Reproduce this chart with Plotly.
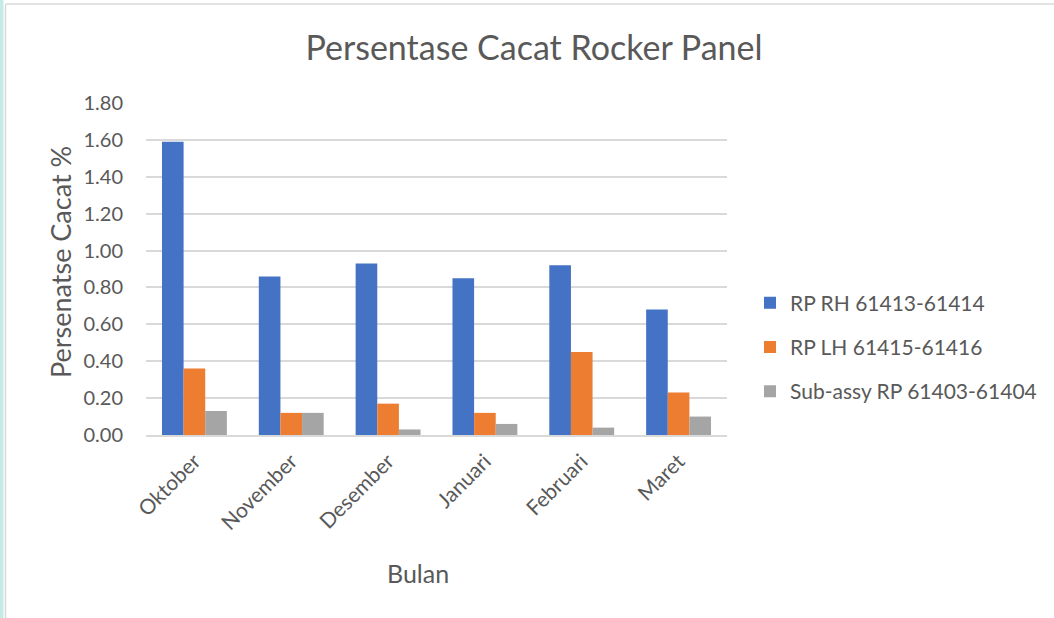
import plotly.graph_objects as go

months = ["Oktober", "November", "Desember", "Januari", "Februari", "Maret"]
rp_rh = [1.59, 0.86, 0.93, 0.85, 0.92, 0.68]
rp_lh = [0.36, 0.12, 0.17, 0.12, 0.45, 0.23]
sub_assy = [0.13, 0.12, 0.03, 0.06, 0.04, 0.10]
series_names = ["RP RH 61413-61414", "RP LH 61415-61416", "Sub-assy RP 61403-61404"]
colors = ["#4472C4", "#ED7D31", "#A5A5A5"]

W, H = 1054, 618
L, R, T, B = 146, 327, 103, 183
pw, ph = W - L - R, H - T - B

def px(x):
    return (x - L) / pw

def py(y):
    return (H - B - y) / ph

FONT = "Lato"
TXT = "#595959"

fig = go.Figure()
for i, (name, vals) in enumerate(zip(series_names, [rp_rh, rp_lh, sub_assy])):
    fig.add_trace(go.Bar(x=months, y=vals, name=name, marker_color=colors[i],
                         marker_line_width=0, legendgroup=str(i)))

fig.update_layout(
    width=W, height=H,
    margin=dict(l=L, r=R, t=T, b=B, autoexpand=False),
    paper_bgcolor="white", plot_bgcolor="white",
    barmode="group", bargap=0.33, bargroupgap=0,
    font=dict(family=FONT, color=TXT),
    title=dict(text="Persentase Cacat Rocker Panel", xref="container", x=534 / W, xanchor="center",
               y=1 - 48 / H, yanchor="middle", font=dict(size=34, color=TXT, family=FONT)),
    showlegend=True,
    legend=dict(x=px(750), xanchor="left", y=py(347), yanchor="middle",
                font=dict(size=21, color=TXT, family=FONT), tracegroupgap=14,
                itemwidth=30, traceorder="grouped"),
    xaxis=dict(tickangle=-45, tickfont=dict(size=21, color=TXT), showline=True,
               linecolor="#D9D9D9", linewidth=1.5, ticks="outside", ticklen=4, tickcolor="rgba(0,0,0,0)",
               showgrid=False),
    yaxis=dict(range=[0, 1.8], dtick=0.2, tickformat=".2f", showgrid=True,
               gridcolor="#D9D9D9", gridwidth=1.5, zeroline=False, ticks="",
               ticklabelstandoff=22,
               tickfont=dict(size=20, color=TXT)),
    annotations=[
        dict(text="Bulan", xref="paper", yref="paper", x=px(418), y=py(573),
             xanchor="center", yanchor="middle", showarrow=False,
             font=dict(size=25, color=TXT, family=FONT)),
        dict(text="Persenatse Cacat %", xref="paper", yref="paper", x=px(60), y=py(262),
             xanchor="center", yanchor="middle", showarrow=False, textangle=-90,
             font=dict(size=27, color=TXT, family=FONT)),
    ],
    shapes=[
        dict(type="rect", xref="paper", yref="paper", x0=px(0), x1=px(3.5), y0=py(H), y1=py(0),
             fillcolor="#C5EBE5", line_width=0, layer="below"),
        dict(type="line", xref="paper", yref="paper", x0=px(5.5), x1=px(5.5), y0=py(H), y1=py(4),
             line=dict(color="#D9D9D9", width=1.5)),
        dict(type="line", xref="paper", yref="paper", x0=px(5.5), x1=px(W), y0=py(4), y1=py(4),
             line=dict(color="#D9D9D9", width=1.5)),
    ],
)

fig.write_html("out.html")
